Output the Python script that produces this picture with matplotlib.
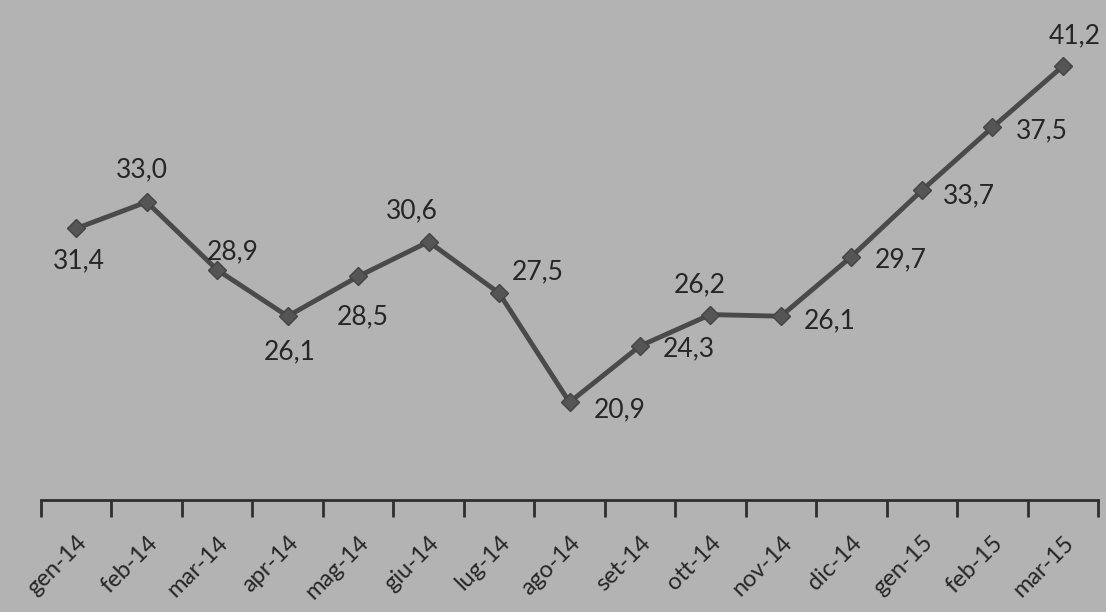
import numpy as np
import matplotlib.pyplot as plt

plt.rcParams['font.family'] = ['Lato', 'DejaVu Sans']

# dati
mesi = ['gen-14', 'feb-14', 'mar-14', 'apr-14', 'mag-14', 'giu-14', 'lug-14', 'ago-14',
        'set-14', 'ott-14', 'nov-14', 'dic-14', 'gen-15', 'feb-15', 'mar-15']
valori = [31.4, 33.0, 28.9, 26.1, 28.5, 30.6, 27.5, 20.9,
          24.3, 26.2, 26.1, 29.7, 33.7, 37.5, 41.2]

# spostamento etichette (pixel)
offsets = [(3, -32), (-5, 32), (16, 18), (2, -36), (5, -40), (-17, 31), (39, 21), (50, -7),
           (49, -3), (-11, 30), (49, -5), (49, -3), (47, -5), (50, -3), (12, 30)]

bg = '#b3b3b3'
fig = plt.figure(figsize=(11.06, 6.12), dpi=100, facecolor=bg)
ax = fig.add_axes([41 / 1106, 1 - 500 / 612, 1057 / 1106, 500 / 612])
ax.set_facecolor(bg)

x = np.arange(len(mesi))
ax.plot(x, valori, color='#4a4a4a', lw=3.5, marker='D', ms=9,
        mfc='#555555', mec='#444444', zorder=3)

for xi, v, (dx, dy) in zip(x, valori, offsets):
    ax.annotate(f'{v:.1f}'.replace('.', ','), (xi, v), xytext=(dx, dy),
                textcoords='offset pixels', ha='center', va='center',
                fontsize=19, color='#262626', annotation_clip=False)

ax.set_xlim(-0.5, len(mesi) - 0.5)
ax.set_ylim(15, 45.2)

for s in ['top', 'left', 'right']:
    ax.spines[s].set_visible(False)
ax.spines['bottom'].set_color('#2e2e2e')
ax.spines['bottom'].set_linewidth(2)

ax.set_yticks([])
ax.set_xticks(np.arange(-0.5, len(mesi)), minor=False)
ax.set_xticklabels([])
ax.tick_params(axis='x', which='major', direction='out', length=12, width=2, color='#2e2e2e')
ax.set_xticks(x, minor=True)
ax.set_xticklabels(mesi, minor=True, rotation=45, ha='right', rotation_mode='anchor',
                   fontsize=17, color='#262626')
ax.tick_params(axis='x', which='minor', length=0, pad=23)

fig.savefig('out.png', dpi=100, facecolor=bg)
